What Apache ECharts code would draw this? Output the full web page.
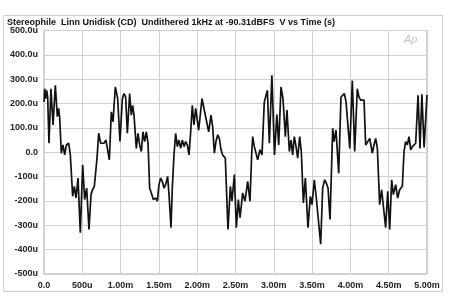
<!DOCTYPE html>
<html>
<head>
<meta charset="utf-8">
<script src="https://cdn.jsdelivr.net/npm/echarts@6/dist/echarts.min.js"></script>
<style>html,body{margin:0;padding:0;background:#fff}#c{width:450px;height:300px}</style>
</head>
<body>
<div id="c"></div>
<script>
var titleText = "Stereophile  Linn Unidisk (CD)  Undithered 1kHz at -90.31dBFS  V vs Time (s)";
var xTickLabels = ["0.0","500u","1.00m","1.50m","2.00m","2.50m","3.00m","3.50m","4.00m","4.50m","5.00m"];
var yTickLabels = ["-500u","-400u","-300u","-200u","-100u","0.0","100.0u","200.0u","300.0u","400.0u","500.0u"];
// time in ms
var timeMs = [
0.000,0.009,0.022,0.035,0.048,0.065,0.091,0.118,0.148,0.174,0.192,0.205,0.226,0.248,0.270,0.292,0.322,0.344,0.374,0.396,
0.418,0.444,0.474,0.505,0.531,0.557,0.587,0.614,0.635,0.657,0.670,0.692,0.714,0.740,0.761,0.783,0.809,0.831,0.853,0.879,
0.901,0.931,0.962,0.992,1.023,1.044,1.066,1.088,1.118,1.140,1.158,1.175,1.205,1.227,1.249,1.271,1.292,1.314,1.336,1.358,
1.379,1.401,1.427,1.458,1.480,1.501,1.523,1.545,1.567,1.588,1.614,1.632,1.658,1.675,1.697,1.719,1.741,1.762,1.784,1.806,
1.828,1.849,1.871,1.893,1.915,1.936,1.958,1.980,2.019,2.063,2.080,2.106,2.128,2.150,2.180,2.202,2.224,2.245,2.267,2.289,
2.311,2.332,2.367,2.402,2.433,2.454,2.485,2.511,2.537,2.559,2.594,2.624,2.659,2.689,2.711,2.724,2.746,2.768,2.789,2.820,
2.846,2.876,2.898,2.916,2.942,2.975,3.009,3.040,3.064,3.094,3.120,3.151,3.172,3.203,3.225,3.246,3.268,3.290,3.312,3.338,
3.359,3.386,3.412,3.446,3.477,3.499,3.529,3.555,3.577,3.612,3.638,3.664,3.686,3.708,3.734,3.769,3.786,3.812,3.847,3.877,
3.903,3.921,3.943,3.964,3.992,4.025,4.056,4.090,4.112,4.134,4.156,4.178,4.199,4.221,4.252,4.286,4.308,4.330,4.352,4.382,
4.408,4.430,4.460,4.487,4.513,4.539,4.561,4.591,4.617,4.643,4.678,4.700,4.721,4.743,4.765,4.787,4.809,4.830,4.852,4.883,
4.909,4.933,4.962,5.000
];
// voltage in microvolts
var voltUV = [
207,261,220,254,227,37,261,112,275,146,180,139,-4,30,-11,30,37,-11,-181,-140,
-188,-106,-330,-52,-194,-147,-317,-174,-154,-140,-147,-24,78,37,44,37,50,44,-31,166,
125,268,220,44,220,241,227,78,241,152,193,152,16,78,30,3,84,44,84,37,
-147,-167,-194,-188,-201,-133,-106,-120,-147,-133,-99,-174,-310,-147,-11,78,23,50,16,50,
23,44,30,-11,84,193,112,180,91,220,227,152,146,84,152,105,-4,44,71,57,
10,-11,-24,-317,-140,-201,-92,-310,-194,-269,-167,-201,-120,-201,-11,64,23,30,-31,10,
-11,207,214,254,37,316,-11,155,30,268,220,64,173,3,50,-11,64,23,-24,64,
3,-208,-106,-310,-181,-215,-113,-188,-194,-378,-147,-113,-127,-147,-276,98,44,91,-86,227,
227,241,207,200,16,295,3,261,227,214,207,214,30,23,57,-4,30,57,16,-215,
-154,-160,-310,-160,-317,-113,-174,-133,-188,-154,-140,3,44,30,64,10,23,23,37,234,
16,238,20,235
];
var seriesData = timeMs.map(function(t,i){return [t, voltUV[i]];});

var chart = echarts.init(document.getElementById('c'), null, {renderer:'canvas'});
var lblFont = {color:'#222', fontSize:9, fontWeight:'bold', fontFamily:'Liberation Sans, Arial, sans-serif'};
chart.setOption({
  animation:false,
  backgroundColor:'#fff',
  title:{text:titleText, left:7, top:18, padding:0, textStyle:{color:'#111', fontSize:9, fontWeight:'bold', fontFamily:'Liberation Sans, Arial, sans-serif'}},
  graphic:[
    {type:'rect', shape:{x:3.5,y:15.5,width:439,height:276}, style:{fill:null, stroke:'#cfcfcf', lineWidth:1}, silent:true, z:-1},
    {type:'text', left:404, top:34, style:{text:'Ap', fill:'#c4c4c4', font:'italic 11px Liberation Sans, Arial, sans-serif'}, z:1}
  ],
  grid:{left:44, right:23, top:30.5, bottom:26, show:true, borderColor:'#a8a8a8', borderWidth:1, containLabel:false},
  xAxis:{type:'value', min:0, max:5, interval:0.5,
    axisLine:{show:false}, axisTick:{show:false},
    splitLine:{show:true, lineStyle:{color:'#d0d0d0', width:1}},
    axisLabel:Object.assign({margin:7, formatter:function(v){return xTickLabels[Math.round(v/0.5)];}}, lblFont)},
  yAxis:{type:'value', min:-500, max:500, interval:100,
    axisLine:{show:false}, axisTick:{show:false},
    splitLine:{show:true, lineStyle:{color:'#d0d0d0', width:1}},
    axisLabel:Object.assign({margin:6, formatter:function(v){return yTickLabels[Math.round((v+500)/100)];}}, lblFont)},
  series:[{type:'line', data:seriesData, showSymbol:false, symbol:'none', lineStyle:{color:'#111', width:1.7}, clip:true}]
});
</script>
</body>
</html>
